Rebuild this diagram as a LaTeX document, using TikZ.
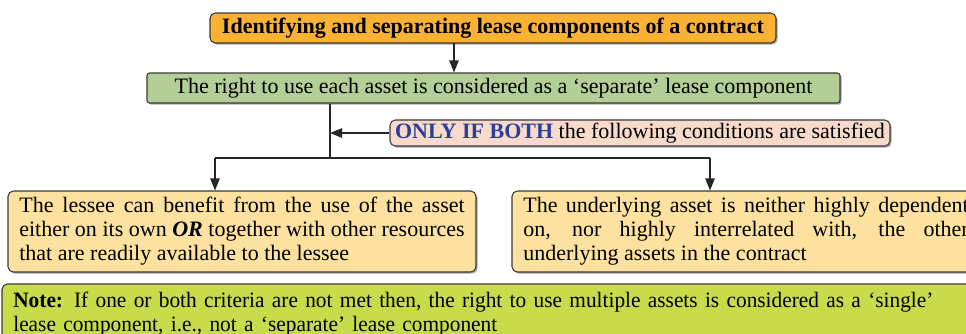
\documentclass[tikz,border=0pt]{standalone}
\usepackage{fontspec}
\setmainfont{Liberation Serif}
\newfontfamily\notefont[FakeStretch=0.97]{Liberation Serif}
\usetikzlibrary{arrows.meta,shadows}
\definecolor{titleorange}{HTML}{F9B233}
\definecolor{rowgreen}{HTML}{B4CE98}
\definecolor{condpink}{HTML}{F8DACB}
\definecolor{crittan}{HTML}{FDE1A0}
\definecolor{notelime}{HTML}{C9DA4B}
\definecolor{onlyblue}{HTML}{2B3F99}
\definecolor{edgegray}{HTML}{3A3A3A}
\tikzset{
  boxbase/.style={draw=edgegray, line width=0.8pt, rounded corners=4pt, inner sep=0pt,
    drop shadow={shadow xshift=1.2pt, shadow yshift=-1.2pt, fill=black, opacity=0.35}},
  conn/.style={line width=1.1pt, draw=black!85},
  arr/.style={conn, -{Triangle[length=9pt,width=7pt]}},
  txt/.style={font=\fontsize{16.5}{18}\selectfont},
}
\begin{document}
\begin{tikzpicture}[x=0.75pt,y=-0.75pt]
\useasboundingbox (0,0) rectangle (966,333);
\clip (0,0) rectangle (966,333);
\node[boxbase, txt, fill=titleorange, minimum width=424.5pt, minimum height=22.5pt] (title) at (493,28)
  {\bfseries Identifying and separating lease components of a contract};
\node[boxbase, txt, fill=rowgreen, rounded corners=2pt, minimum width=519.75pt, minimum height=22.5pt] (green) at (493.5,88)
  {The right to use each asset is considered as a ‘separate’ lease component};
\node[boxbase, txt, fill=condpink, minimum width=375pt, minimum height=19.5pt] (pink) at (640,133)
  {\textcolor{onlyblue}{\bfseries ONLY IF BOTH} the following conditions are satisfied};
\node[boxbase, txt, fill=crittan, minimum width=351pt, minimum height=60.75pt, text width=334pt, align=justify] (left) at (242,231.5)
  {The lessee can benefit from the use of the asset\linebreak either on its own \textbf{\textit{OR}} together with other resources\linebreak that are readily available to the lessee};
\node[boxbase, txt, fill=crittan, minimum width=351pt, minimum height=60.75pt, text width=334pt, align=justify] (right) at (746,231.5)
  {The underlying asset is neither highly dependent\linebreak on, nor highly interrelated with, the other\linebreak underlying assets in the contract};
\node[boxbase, txt, fill=notelime, minimum width=732pt, minimum height=45.75pt, text width=715pt, align=left] (note) at (490,314.5)
  {\notefont\textbf{Note:} If one or both criteria are not met then, the right to use multiple assets is considered as a ‘single’\\ lease component, i.e., not a ‘separate’ lease component};
\coordinate (a1) at (454,43);
\coordinate (j) at (330,158);
\coordinate (lx) at (215,158);
\coordinate (rx) at (710,158);
\draw[arr] (a1) -- (a1 |- green.north);
\draw[conn] (green.south -| j) -- (j);
\draw[conn] (lx) -- (rx);
\draw[arr] (lx) -- (lx |- left.north);
\draw[arr] (rx) -- (rx |- right.north);
\draw[arr] (pink.west) -- (pink.west -| j);
\end{tikzpicture}
\end{document}
